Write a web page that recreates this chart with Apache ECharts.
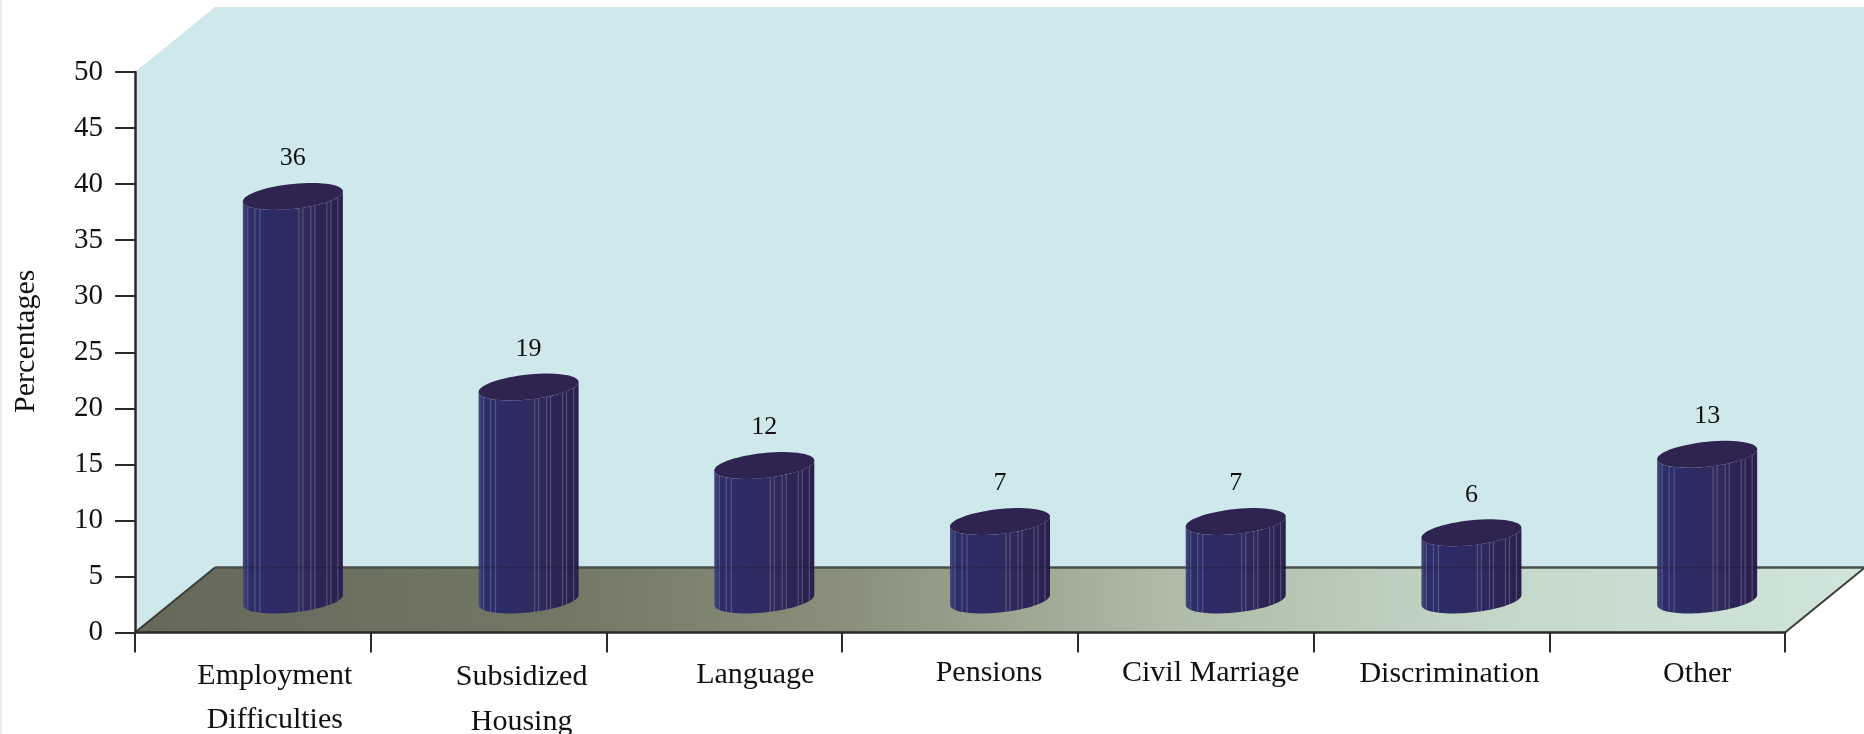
<!DOCTYPE html>
<html>
<head>
<meta charset="utf-8">
<title>Percentages</title>
<script src="https://cdn.jsdelivr.net/npm/echarts@6/dist/echarts.min.js"></script>
<style>
    html, body { margin: 0; padding: 0; background: #fff; }
    #main { width: 1864px; height: 734px; }
</style>
</head>
<body>
<div id="main"></div>
<script>
const categories = ['Employment\nDifficulties', 'Subsidized\nHousing', 'Language', 'Pensions', 'Civil Marriage', 'Discrimination', 'Other']
const values = [36, 19, 12, 7, 7, 6, 13]
const yTicks = [0, 5, 10, 15, 20, 25, 30, 35, 40, 45, 50]

// how far the back wall sits behind the axes
const depthX = 80
const depthY = 65
const fontName = '"Liberation Serif", serif'

// thin light ribs on the cylinders, as a share of the bar width
const ribs = [0.05, 0.12, 0.17, 0.56, 0.6, 0.68, 0.72, 0.84, 0.88, 0.95]

// the category labels sit a bit unevenly in the original
const labelPadLeft = [44, 66, 62, 58, 30, 36, 60]
const labelLineHeight = [44, 45, 42, 37, 37, 39, 39]

const chart = echarts.init(document.getElementById('main'), null, { renderer: 'canvas' })

function ellipsePoints(cx, cy, a, b, tilt, from, to, n) {
    let pts = []
    for (let i = 0; i <= n; i++) {
        let t = from + (to - from) * i / n
        pts.push([cx + a * Math.cos(t), cy + b * Math.sin(t) - tilt * Math.cos(t)])
    }
    return pts
}

function renderRoom(params, api) {
    const g = params.coordSys
    const bottom = g.y + g.height
    const right = g.x + g.width
    const edge = { stroke: '#3a3d36', lineWidth: 2 }
    return {
        type: 'group',
        children: [
            {
                type: 'polygon',
                shape: { points: [[g.x, g.y], [g.x + depthX, g.y - depthY], [right + depthX, g.y - depthY], [right + depthX, bottom - depthY], [g.x + depthX, bottom - depthY], [g.x, bottom]] },
                style: { fill: '#cee8ec' }
            },
            {
                type: 'polygon',
                shape: { points: [[g.x, bottom], [g.x + depthX, bottom - depthY], [right + depthX, bottom - depthY], [right, bottom]] },
                style: {
                    fill: new echarts.graphic.LinearGradient(0, 0, 1, 0, [
                        { offset: 0, color: '#65685a' },
                        { offset: 0.25, color: '#737865' },
                        { offset: 0.42, color: '#8b917c' },
                        { offset: 0.6, color: '#aebca8' },
                        { offset: 0.8, color: '#c5d9ca' },
                        { offset: 1, color: '#d0e5dc' }
                    ])
                }
            },
            { type: 'line', shape: { x1: g.x, y1: bottom, x2: g.x + depthX, y2: bottom - depthY }, style: edge },
            { type: 'line', shape: { x1: g.x + depthX, y1: bottom - depthY, x2: right + depthX, y2: bottom - depthY }, style: { stroke: '#4a4f48', lineWidth: 2.5 } },
            { type: 'line', shape: { x1: right, y1: bottom, x2: right + depthX, y2: bottom - depthY }, style: edge }
        ]
    }
}

function renderBar(params, api) {
    const top = api.coord([api.value(0), api.value(1)])
    const base = api.coord([api.value(0), 0])
    const a = api.size([1, 0])[0] * 0.2122
    const cx = top[0] + depthX / 2
    const topY = top[1] - depthY / 2
    const baseY = base[1] - depthY / 2
    const b = 12.5
    const tilt = 5

    // front half of the cylinder: down the left side, along the base, up the right side
    const front = ellipsePoints(cx, baseY, a, b, tilt, Math.PI, 0, 40).concat(ellipsePoints(cx, topY, a, b, tilt, 0, Math.PI, 40))
    let children = [{
        type: 'polygon',
        shape: { points: front },
        style: {
            fill: new echarts.graphic.LinearGradient(0, 0, 1, 0, [
                { offset: 0, color: '#494c7a' },
                { offset: 0.05, color: '#2b2e69' },
                { offset: 0.2, color: '#2c2c69' },
                { offset: 0.55, color: '#302a5f' },
                { offset: 1, color: '#2a1f4e' }
            ])
        }
    }]

    ribs.forEach(r => {
        const x = cx - a + 2 * a * r
        const t = Math.acos((x - cx) / a)
        const shift = -tilt * Math.cos(t)
        children.push({
            type: 'line',
            shape: { x1: x, y1: topY + b * Math.sin(t) + shift, x2: x, y2: baseY + b * Math.sin(t) + shift },
            style: { stroke: 'rgba(150,150,175,0.4)', lineWidth: 1.2 }
        })
    })

    // the floor's back edge shows faintly through the bars
    children.push({
        type: 'line',
        shape: { x1: cx - a, y1: base[1] - depthY, x2: cx + a, y2: base[1] - depthY },
        style: { stroke: 'rgba(20,20,30,0.22)', lineWidth: 2 }
    })
    children.push({
        type: 'polygon',
        shape: { points: ellipsePoints(cx, topY, a, b, tilt, 0, Math.PI * 2, 60) },
        style: { fill: '#2e244f' }
    })
    children.push({
        type: 'text',
        style: {
            x: cx,
            y: topY - 38,
            text: String(api.value(1)),
            fill: '#111',
            font: '26px ' + fontName,
            align: 'center',
            verticalAlign: 'middle'
        }
    })
    return { type: 'group', children: children }
}

let labelRich = {}
categories.forEach((c, i) => {
    labelRich['c' + i] = {
        fontFamily: fontName,
        fontSize: 30,
        lineHeight: labelLineHeight[i],
        padding: [0, 0, 0, labelPadLeft[i]],
        color: '#111'
    }
})

const option = {
    animation: false,
    backgroundColor: '#fff',
    grid: { left: 135, top: 72, width: 1650, height: 560.5, containLabel: false, outerBoundsMode: 'none' },
    graphic: [{
        type: 'rect',
        left: 0,
        top: 0,
        shape: { width: 2, height: 734 },
        style: { fill: '#ececec' }
    }],
    xAxis: {
        type: 'category',
        data: categories,
        boundaryGap: true,
        axisLine: { lineStyle: { color: '#2a2a2a', width: 2.5 } },
        axisTick: { show: true, length: 20, alignWithLabel: false, lineStyle: { color: '#2a2a2a', width: 2 } },
        axisLabel: {
            interval: 0,
            margin: 22,
            color: '#111',
            formatter: (v, i) => v.split('\n').map(s => '{c' + i + '|' + s + '}').join('\n'),
            rich: labelRich
        }
    },
    yAxis: {
        type: 'value',
        min: yTicks[0],
        max: yTicks[yTicks.length - 1],
        interval: 5,
        name: 'Percentages',
        nameLocation: 'middle',
        nameRotate: 90,
        nameGap: 94,
        nameTextStyle: { fontFamily: fontName, fontSize: 30, color: '#111', padding: [0, 0, 0, 22] },
        axisLine: { show: true, lineStyle: { color: '#2a2a2a', width: 2.5 } },
        axisTick: { show: true, length: 20, lineStyle: { color: '#2a2a2a', width: 2 } },
        axisLabel: { margin: 32, fontFamily: fontName, fontSize: 29, color: '#111' },
        splitLine: { show: false }
    },
    series: [
        {
            type: 'custom',
            name: 'room',
            z: -1,
            silent: true,
            renderItem: renderRoom,
            data: [[0, 0]],
            encode: { x: 0, y: 1 }
        },
        {
            type: 'custom',
            name: 'Percentages',
            z: 5,
            renderItem: renderBar,
            data: values.map((v, i) => [i, v]),
            encode: { x: 0, y: 1 }
        }
    ]
}

chart.setOption(option)
</script>
</body>
</html>
